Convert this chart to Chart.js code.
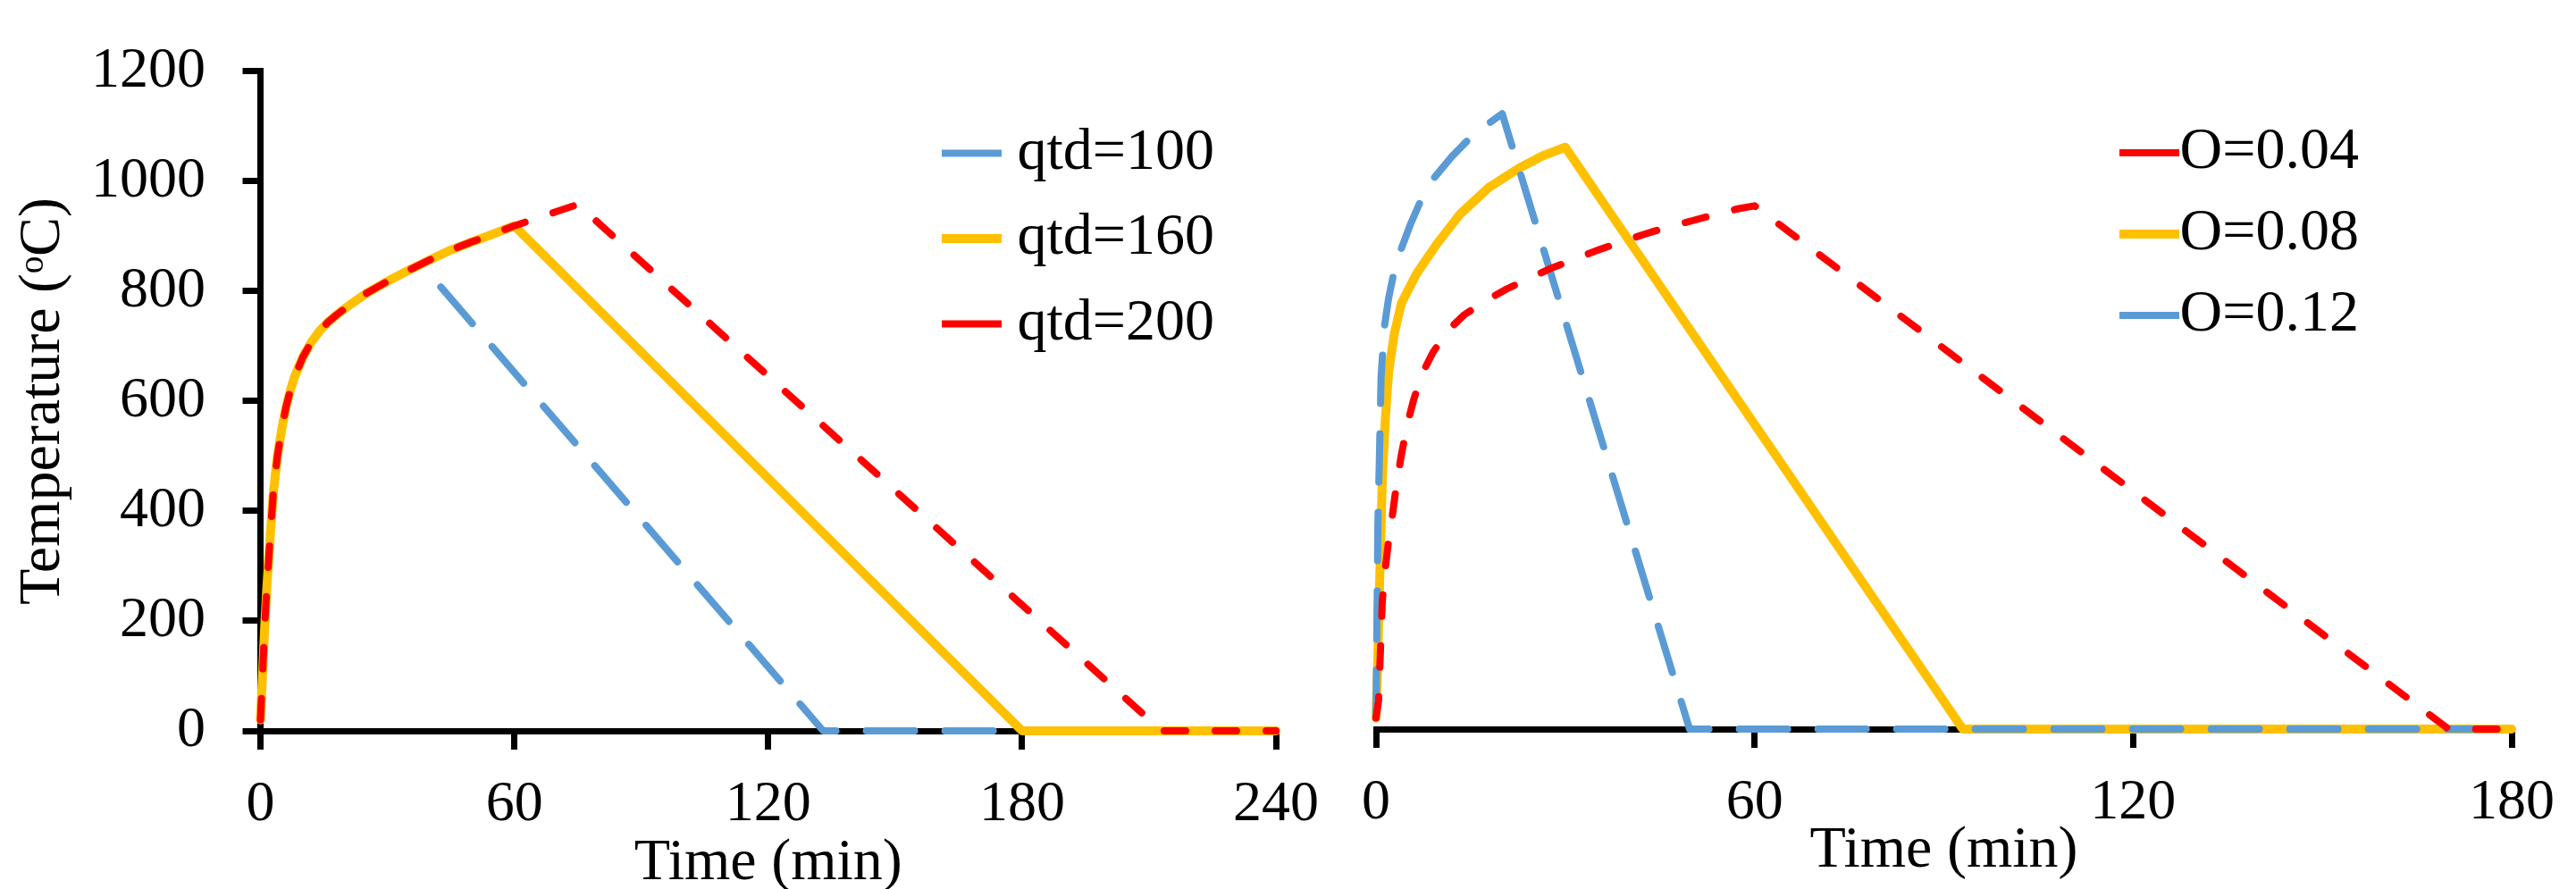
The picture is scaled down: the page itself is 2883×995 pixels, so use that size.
<!DOCTYPE html>
<html>
<head>
<meta charset="utf-8">
<title>Gas temperature curves</title>
<script src="https://cdn.jsdelivr.net/npm/chart.js@4.4.1/dist/chart.umd.min.js"></script>
<style>
  html, body { margin: 0; padding: 0; background: #fff; overflow: hidden; }
  #wrap { position: relative; width: 2883px; height: 995px; }
  canvas { position: absolute; top: 0; }
  #leftChart { left: 0; }
  #rightChart { left: 1500px; }
</style>
</head>
<body>
<div id="wrap">
  <canvas id="leftChart" width="1500" height="995"></canvas>
  <canvas id="rightChart" width="1383" height="995"></canvas>
</div>
<script>
// left panel: fire load density qtd (time in min, temperature in degC)
const leftTime100 = [0, 0.5, 1, 1.5, 2, 3, 4, 5, 6, 7, 8, 10, 12, 14, 16, 18, 20, 25, 30, 35, 38, 133, 240];
const leftTemp100 = [20, 105, 190, 260, 320, 430, 500, 548, 588, 618, 643, 680, 707, 728, 744, 757, 769, 796, 818, 838, 849, 0, 0];

const leftTime160 = [0, 0.5, 1, 1.5, 2, 3, 4, 5, 6, 7, 8, 10, 12, 14, 16, 18, 20, 25, 30, 35, 40, 45, 50, 55, 60, 180, 240];
const leftTemp160 = [20, 105, 190, 260, 320, 430, 500, 548, 588, 618, 643, 680, 707, 728, 744, 757, 769, 796, 818, 838, 857, 875, 890, 904, 919, 0, 0];

const leftTime200 = [0, 0.5, 1, 1.5, 2, 3, 4, 5, 6, 7, 8, 10, 12, 14, 16, 18, 20, 25, 30, 35, 40, 45, 50, 55, 60, 65, 70, 75, 213, 240];
const leftTemp200 = [20, 105, 190, 260, 320, 430, 500, 548, 588, 618, 643, 680, 707, 728, 744, 757, 769, 796, 818, 838, 857, 875, 890, 904, 919, 932, 945, 958, 0, 0];

// right panel: opening factor O
const rightTime004 = [0, 0.4, 0.7, 1, 1.5, 2, 2.5, 3, 3.5, 4, 5, 6, 7.3, 9, 11.4, 14, 17.5, 20.7, 24.4, 27.7, 31.6, 35, 38.8, 42.5, 46.2, 50, 54, 57.5, 60, 170, 180];
const rightTemp004 = [20, 50, 140, 230, 290, 338, 375, 417, 455, 490, 548, 591, 636, 674, 714, 742, 768, 788, 808, 825, 842, 857, 872, 886, 899, 910, 922, 932, 937, 0, 0];

const rightTime008 = [0, 0.3, 0.5, 0.8, 1, 1.5, 2, 2.9, 4, 6.4, 9.6, 13.3, 17.9, 22.6, 26.3, 30, 93, 180];
const rightTemp008 = [20, 130, 230, 360, 450, 559, 640, 708, 762, 815, 868, 922, 970, 1004, 1026, 1042, 0, 0];

const rightTime012 = [0, 0.3, 0.55, 0.8, 1.35, 2, 2.74, 4, 5.5, 7, 9.2, 12, 14.5, 17.8, 20, 49.7, 180];
const rightTemp012 = [20, 370, 490, 630, 722, 772, 812, 860, 905, 944, 987, 1025, 1054, 1084, 1102, 0, 0];

const serif = "'Liberation Serif', 'Times New Roman', serif";
const BLUE = '#5B9BD5';
const YELLOW = '#FFC000';
const RED = '#FF0000';
const LEGEND_LINE = 67;

Chart.defaults.font.family = serif;
Chart.defaults.color = '#000';

const toPoints = (xs, ys) => xs.map((x, i) => ({ x: x, y: ys[i] }));

function lineStyle(color, width, dash) {
    return {
        borderColor: color,
        backgroundColor: color,
        borderWidth: width,
        borderDash: dash,
        borderCapStyle: 'round',
        borderJoinStyle: 'round',
        pointRadius: 0,
        tension: 0,
        fill: false,
        clip: false
    };
}

// the legend sits inside the plot, so move it after layout
const placeLegend = {
    id: 'placeLegend',
    afterLayout(chart, args, opts) {
        const legend = chart.legend;
        if (!legend) return;
        legend.left = opts.left;
        legend.top = opts.top;
        legend.right = opts.right;
        legend.bottom = chart.height;
        legend.width = legend.right - legend.left;
        legend.height = legend.bottom - legend.top;
    }
};

function legendOptions(padding) {
    return {
        position: 'chartArea',
        align: 'start',
        labels: {
            usePointStyle: true,
            pointStyle: 'line',
            pointStyleWidth: LEGEND_LINE,
            padding: padding,
            textAlign: 'right',
            color: '#000',
            font: { family: serif, size: 66 },
            sort: (a, b) => a.datasetIndex - b.datasetIndex,
            generateLabels(chart) {
                const items = Chart.defaults.plugins.legend.labels.generateLabels(chart);
                return items.map(item => {
                    const dash = item.lineDash || [];
                    if (dash.length) {
                        // line is stroked right-to-left, shift so the pattern starts on the left
                        const period = dash[0] + dash[1];
                        item.lineDashOffset = (((dash[0] - LEGEND_LINE) % period) + period) % period;
                    }
                    return item;
                });
            }
        }
    };
}

const axisBorder = { display: true, color: '#000', width: 7 };
const tickFont = { family: serif, size: 64 };
const plainTick = value => String(value);

function xScale(max, titleBottom, height) {
    return {
        type: 'linear',
        min: 0,
        max: max,
        ticks: { stepSize: 60, padding: 24, color: '#000', font: tickFont, maxRotation: 0, callback: plainTick },
        grid: { drawOnChartArea: false, drawTicks: true, tickLength: 21, tickWidth: 7, tickColor: '#000', lineWidth: 7, color: '#000' },
        border: axisBorder,
        title: {
            display: true,
            text: 'Time (min)',
            color: '#000',
            font: { family: serif, size: 66, lineHeight: 0.86 },
            padding: { top: 0, bottom: titleBottom }
        },
        afterFit(scale) { scale.height = height; }
    };
}

new Chart(document.getElementById('leftChart'), {
    type: 'line',
    data: {
        datasets: [
            Object.assign({ label: 'qtd=100', data: toPoints(leftTime100, leftTemp100), order: 3 }, lineStyle(BLUE, 8, [54, 34])),
            Object.assign({ label: 'qtd=160', data: toPoints(leftTime160, leftTemp160), order: 2 }, lineStyle(YELLOW, 10, [])),
            Object.assign({ label: 'qtd=200', data: toPoints(leftTime200, leftTemp200), order: 1 }, lineStyle(RED, 8, [24, 33]))
        ]
    },
    options: {
        responsive: false,
        animation: false,
        devicePixelRatio: 1,
        events: [],
        layout: { padding: { top: 68, right: 51.5, bottom: 0, left: 0 } },
        scales: {
            x: xScale(240, 0, 177),
            y: {
                min: 0,
                max: 1200,
                ticks: { stepSize: 200, padding: 41.5, color: '#000', font: tickFont, callback: plainTick },
                grid: { drawOnChartArea: false, drawTicks: true, tickLength: 20, tickWidth: 7, tickColor: '#000', lineWidth: 7, color: '#000' },
                border: axisBorder,
                title: {
                    display: true,
                    text: 'Temperature (ᵒC)',
                    color: '#000',
                    font: { family: serif, size: 66 },
                    padding: { top: 9, bottom: 0 }
                },
                afterFit(scale) { scale.width = 291.5; }
            }
        },
        plugins: {
            legend: legendOptions(29.5),
            tooltip: { enabled: false },
            placeLegend: { left: 1024.5, top: 109, right: 1359 }
        }
    },
    plugins: [placeLegend]
});

new Chart(document.getElementById('rightChart'), {
    type: 'line',
    data: {
        datasets: [
            Object.assign({ label: 'O=0.04', data: toPoints(rightTime004, rightTemp004), order: 1 }, lineStyle(RED, 8, [24, 33])),
            Object.assign({ label: 'O=0.08', data: toPoints(rightTime008, rightTemp008), order: 3 }, lineStyle(YELLOW, 10, [])),
            Object.assign({ label: 'O=0.12', data: toPoints(rightTime012, rightTemp012), order: 2 }, lineStyle(BLUE, 8, [54, 34]))
        ]
    },
    options: {
        responsive: false,
        animation: false,
        devicePixelRatio: 1,
        events: [],
        layout: { padding: { top: 66, right: 53, bottom: 0, left: 36 } },
        scales: {
            x: xScale(180, 13.6, 179),
            y: { display: false, min: 0, max: 1200 }
        },
        plugins: {
            legend: legendOptions(25),
            tooltip: { enabled: false },
            placeLegend: { left: 847, top: 113, right: 1140 }
        }
    },
    plugins: [placeLegend]
});
</script>
</body>
</html>
